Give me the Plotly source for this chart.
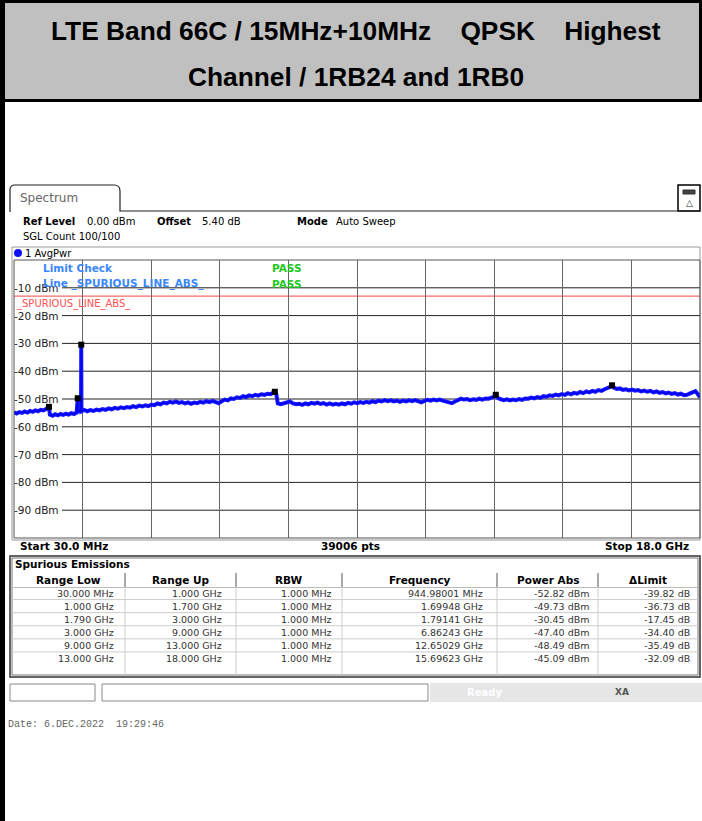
import plotly.graph_objects as go

W, H = 702, 821

# ---------------- data ----------------
title_lines = ["LTE Band 66C / 15MHz+10MHz    QPSK    Highest", "Channel / 1RB24 and 1RB0"]

trace_freq_ghz = [
    0.03, 0.10, 0.17, 0.24, 0.31, 0.38, 0.45, 0.52, 0.59, 0.66, 0.73, 0.80, 0.87, 0.945,
    0.97, 1.04, 1.11, 1.18, 1.25, 1.32, 1.39, 1.46, 1.53, 1.60, 1.67, 1.695, 1.6995, 1.705,
    1.75, 1.785, 1.7914, 1.797,
    1.87, 1.95, 2.03, 2.11, 2.19, 2.27, 2.35, 2.43, 2.51, 2.59, 2.67, 2.75, 2.83, 2.91,
    2.99, 3.07, 3.15, 3.23, 3.31, 3.39, 3.47, 3.55, 3.63, 3.71, 3.79, 3.87, 3.95, 4.03,
    4.11, 4.19, 4.27, 4.35, 4.43, 4.51, 4.59, 4.67, 4.75, 4.83, 4.91, 4.99, 5.07, 5.15,
    5.23, 5.31, 5.39, 5.47, 5.55, 5.63, 5.71, 5.79, 5.87, 5.95, 6.03, 6.11, 6.19, 6.27,
    6.35, 6.43, 6.51, 6.59, 6.67, 6.75, 6.82, 6.8624, 6.90, 6.94,
    7.02, 7.10, 7.18, 7.26, 7.34, 7.42, 7.50, 7.58, 7.66, 7.74, 7.82, 7.90, 7.98, 8.06,
    8.14, 8.22, 8.30, 8.38, 8.46, 8.54, 8.62, 8.70, 8.78, 8.86, 8.94, 9.02, 9.10, 9.18,
    9.26, 9.34, 9.42, 9.50, 9.58, 9.66, 9.74, 9.82, 9.90, 9.98, 10.06, 10.14, 10.22, 10.30,
    10.38, 10.46, 10.54, 10.62, 10.70, 10.78, 10.86, 10.94, 11.02, 11.10, 11.18, 11.26,
    11.34, 11.42, 11.50, 11.58, 11.66, 11.74, 11.82, 11.90, 11.98, 12.06, 12.14, 12.22,
    12.30, 12.38, 12.46, 12.54, 12.60, 12.6503, 12.70, 12.78,
    12.86, 12.94, 13.02, 13.10, 13.18, 13.26, 13.34, 13.42, 13.50, 13.58, 13.66, 13.74,
    13.82, 13.90, 13.98, 14.06, 14.14, 14.22, 14.30, 14.38, 14.46, 14.54, 14.62, 14.70,
    14.78, 14.86, 14.94, 15.02, 15.10, 15.18, 15.26, 15.34, 15.42, 15.50, 15.58, 15.65,
    15.6962, 15.74, 15.82, 15.90, 15.98, 16.06, 16.14, 16.22, 16.30, 16.38, 16.46, 16.54,
    16.62, 16.70, 16.78, 16.86, 16.94, 17.02, 17.10, 17.18, 17.26, 17.34, 17.42, 17.50,
    17.58, 17.66, 17.74, 17.82, 17.88, 17.94, 18.00,
]
trace_dbm = [
    -54.8, -55.2, -54.7, -55.0, -54.5, -54.9, -54.3, -54.6, -54.1, -54.4, -53.9, -54.1, -53.6, -52.82,
    -55.6, -56.0, -55.5, -55.9, -55.4, -55.7, -55.3, -55.6, -55.1, -55.4, -54.9, -50.5, -49.73, -54.6,
    -54.2, -54.5, -30.45, -54.4,
    -53.9, -54.4, -54.0, -54.3, -53.8, -54.1, -53.6, -53.9, -53.4, -53.7, -53.2, -53.5, -53.0, -53.3,
    -52.9, -53.1, -52.6, -52.9, -52.4, -52.7, -52.3, -52.6, -52.0, -52.2, -51.6, -51.9, -51.3, -51.6,
    -51.0, -51.3, -50.9, -51.4, -51.1, -51.6, -51.2, -51.7, -51.3, -51.5, -51.0, -51.3, -50.8, -51.1,
    -50.7, -51.2, -51.5, -50.8, -50.2, -50.5, -49.8, -50.0, -49.4, -49.6, -49.0, -49.3, -48.7, -49.0,
    -48.5, -48.8, -48.3, -48.5, -48.1, -48.3, -47.9, -47.40, -48.2, -51.6,
    -51.9, -51.5, -51.2, -50.9, -51.6, -51.9, -51.7, -52.1, -51.6, -51.9, -51.4, -51.7, -51.3, -51.8,
    -51.5, -52.0, -51.6, -52.0, -51.7, -52.0, -51.6, -51.9, -51.4, -51.7, -51.2, -51.5, -51.1, -51.4,
    -51.0, -51.3, -50.8, -51.1, -50.6, -50.9, -50.4, -50.8, -50.5, -50.9, -50.6, -51.0, -50.6, -50.9,
    -50.5, -50.8, -50.4, -50.9, -51.2, -50.7, -50.3, -50.6, -50.2, -50.5, -50.2, -50.6,
    -50.8, -51.2, -51.5, -50.9, -50.3, -49.9, -50.2, -50.0, -50.4, -50.1, -50.3, -49.9,
    -50.2, -49.8, -49.9, -49.5, -49.2, -48.49, -49.6, -50.1,
    -50.4, -50.1, -50.5, -50.2, -50.4, -50.0, -50.3, -49.8, -49.9, -49.5, -49.8, -49.3,
    -49.6, -49.0, -49.2, -48.7, -48.9, -48.4, -48.7, -48.2, -48.5, -47.9, -48.3, -47.8,
    -48.1, -47.5, -47.9, -47.3, -47.6, -47.1, -47.4, -46.8, -47.1, -46.5, -46.2, -45.6,
    -45.09, -45.9, -46.4, -46.2, -46.7, -46.5, -46.9, -46.6, -47.0, -46.8, -47.3, -47.0,
    -47.4, -47.1, -47.6, -47.3, -47.8, -47.5, -48.0, -47.7, -48.2, -47.9, -48.4, -48.1,
    -48.6, -48.5, -48.0, -47.4, -47.2, -48.2, -49.4,
]

limit_dbm = -13.0
y_ticks = [-10, -20, -30, -40, -50, -60, -70, -80, -90]
y_tick_labels = ["-10 dBm", "-20 dBm", "-30 dBm", "-40 dBm", "-50 dBm",
                 "-60 dBm", "-70 dBm", "-80 dBm", "-90 dBm"]

col_headers = ["Range Low", "Range Up", "RBW", "Frequency", "Power Abs", "\u0394Limit"]
range_low = ["30.000 MHz", "1.000 GHz", "1.790 GHz", "3.000 GHz", "9.000 GHz", "13.000 GHz"]
range_up = ["1.000 GHz", "1.700 GHz", "3.000 GHz", "9.000 GHz", "13.000 GHz", "18.000 GHz"]
rbw = ["1.000 MHz"] * 6
peak_freq_label = ["944.98001 MHz", "1.69948 GHz", "1.79141 GHz", "6.86243 GHz",
                   "12.65029 GHz", "15.69623 GHz"]
peak_freq_ghz = [0.94498001, 1.69948, 1.79141, 6.86243, 12.65029, 15.69623]
peak_power_dbm = [-52.82, -49.73, -30.45, -47.40, -48.49, -45.09]
delta_limit_db = [-39.82, -36.73, -17.45, -34.40, -35.49, -32.09]

# ---------------- helpers ----------------
def px(x):
    return x / W

def py(y):
    return 1 - y / H

PLOT_L, PLOT_R, PLOT_T, PLOT_B = 14, 700, 260, 538
F0, F1 = 0.03, 18.0
UI = "DejaVu Sans"

fig = go.Figure()

fig.add_trace(go.Scatter(
    x=trace_freq_ghz, y=trace_dbm, mode="lines",
    line=dict(color="#1a1aff", width=4), hoverinfo="skip", showlegend=False))
fig.add_trace(go.Scatter(
    x=trace_freq_ghz, y=trace_dbm, mode="lines",
    line=dict(color="#0000f0", width=1.5), hoverinfo="skip", showlegend=False))
fig.add_trace(go.Scatter(
    x=peak_freq_ghz, y=peak_power_dbm, mode="markers",
    marker=dict(color="black", size=6, symbol="square"), hoverinfo="skip", showlegend=False))

shapes = []
ann = []

def rect(x0, y0, x1, y1, line="black", width=1, fill=None, layer="below"):
    shapes.append(dict(type="rect", xref="paper", yref="paper",
                       x0=px(x0), x1=px(x1), y0=py(y1), y1=py(y0),
                       line=dict(color=line, width=width),
                       fillcolor=fill if fill else "rgba(0,0,0,0)", layer=layer))

def hline(x0, x1, y, color="black", width=1, layer="above"):
    shapes.append(dict(type="line", xref="paper", yref="paper",
                       x0=px(x0), x1=px(x1), y0=py(y), y1=py(y),
                       line=dict(color=color, width=width), layer=layer))

def vline(x, y0, y1, color="black", width=1, layer="above"):
    shapes.append(dict(type="line", xref="paper", yref="paper",
                       x0=px(x), x1=px(x), y0=py(y0), y1=py(y1),
                       line=dict(color=color, width=width), layer=layer))

def text(x, y, s, size=11, color="black", xanchor="left", family=UI, bold=False):
    if bold:
        s = "<b>" + s + "</b>"
    ann.append(dict(x=px(x), y=py(y), xref="paper", yref="paper", text=s,
                    showarrow=False, xanchor=xanchor, yanchor="middle",
                    font=dict(family=family, size=size, color=color),
                    borderpad=0))

def nb(s):
    return s.replace("  ", "&nbsp;&nbsp;")

# --- title cell ---
rect(1, 1.5, 700.5, 100.5, line="black", width=3, fill="#c0c0c0")
text(356, 31, nb(title_lines[0]), size=26.3, xanchor="center", family="Liberation Sans", bold=True)
text(356, 77, nb(title_lines[1]), size=26.3, xanchor="center", family="Liberation Sans", bold=True)
# left thick border
rect(0, 0, 5, 821, line="black", width=0, fill="black", layer="above")

# --- spectrum tab ---
shapes.append(dict(type="path", xref="paper", yref="paper",
                   path=(f"M {px(10)} {py(212)} L {px(10)} {py(190)} Q {px(10)} {py(185)} {px(15)} {py(185)} "
                         f"L {px(114)} {py(185)} Q {px(120)} {py(185)} {px(120)} {py(191)} L {px(120)} {py(211)} "
                         f"L {px(700)} {py(211)}"),
                   line=dict(color="#222222", width=1.2)))
text(19, 198, "Spectrum", size=12, color="#666666")
# icon top right
rect(678, 185, 700, 211, line="black", width=1.5, fill="white")
rect(683, 190, 695, 194, line="#333333", width=1, fill="#444444")
text(689, 203, "\u25b3", size=9, xanchor="center", color="#333333")

# --- header info ---
text(22, 221, "Ref Level", size=10, bold=True)
text(86, 221, "0.00 dBm", size=10)
text(156, 221, "Offset", size=10, bold=True)
text(201, 221, "5.40 dB", size=10)
text(296, 221, "Mode", size=10, bold=True)
text(335, 221, "Auto Sweep", size=10)
text(22, 236, "SGL Count 100/100", size=10)

# trace info box
rect(12, 247, 700, 540, line="#999999", width=1)
shapes.append(dict(type="circle", xref="paper", yref="paper",
                   x0=px(14), x1=px(22), y0=py(257), y1=py(249),
                   fillcolor="#1010ff", line=dict(color="#1010ff", width=0)))
text(24, 253, "1 AvgPwr", size=10)

# --- plot frame & gridlines ---
rect(PLOT_L, PLOT_T, PLOT_R, PLOT_B, line="#555555", width=1, layer="above")
for v in y_ticks:
    shapes.append(dict(type="line", xref="paper", yref="y", x0=px(62), x1=px(PLOT_R), y0=v, y1=v,
                       line=dict(color="#222222", width=1), layer="below"))
shapes.append(dict(type="line", xref="paper", yref="y", x0=px(PLOT_L), x1=px(PLOT_R),
                   y0=limit_dbm, y1=limit_dbm, line=dict(color="#ff6a6a", width=1.2), layer="below"))
for v, lab in zip(y_ticks, y_tick_labels):
    ann.append(dict(x=px(61), y=v, xref="paper", yref="y", text=lab, showarrow=False,
                    xanchor="right", yanchor="middle",
                    font=dict(family=UI, size=10.5, color="#222222")))

text(42, 268, "Limit Check", size=10.5, color="#3a86ff", bold=True)
text(271, 268, "PASS", size=10.5, color="#1cc81c", bold=True)
text(42, 284, "Line _SPURIOUS_LINE_ABS_", size=10.5, color="#3a86ff", bold=True)
text(271, 284, "PASS", size=10.5, color="#1cc81c", bold=True)
text(15, 304, "_SPURIOUS_LINE_ABS_", size=10, color="#ff5050")

text(19, 546, "Start 30.0 MHz", size=10.5, bold=True)
text(350, 546, "39006 pts", size=10.5, bold=True, xanchor="center")
text(690, 546, "Stop 18.0 GHz", size=10.5, bold=True, xanchor="right")

# --- table ---
rect(10, 556, 700, 677, line="#333333", width=1.5)
rect(12, 558, 698, 675, line="#777777", width=1)
text(14, 564, "Spurious Emissions", size=10.5, bold=True)
col_edges = [12, 125, 236, 342, 497, 598, 698]
for i, hname in enumerate(col_headers):
    cx = (col_edges[i] + col_edges[i + 1]) / 2
    text(cx, 580, hname, size=10.5, bold=True, xanchor="center")
for e in col_edges[1:-1]:
    vline(e, 573, 587, color="#555555")
hline(12, 698, 587.5, color="#bbbbbb")
row_y0 = 593
row_h = 13.1
cols = [range_low, range_up, rbw, peak_freq_label,
        [f"{p:.2f} dBm" for p in peak_power_dbm],
        [f"{d:.2f} dB" for d in delta_limit_db]]
right_edges = [115, 223, 333, 484, 590, 691]
for r in range(6):
    yy = row_y0 + r * row_h
    for c in range(6):
        text(right_edges[c], yy, cols[c][r], size=9.5, color="#333333", xanchor="right")
    if r < 5:
        hline(12, 698, yy + row_h / 2, color="#cccccc")
for e in col_edges[1:-1]:
    vline(e, 587, 675, color="#cccccc")

# --- status bar ---
shapes.append(dict(type="rect", xref="paper", yref="paper", x0=px(430), x1=px(702),
                   y0=py(702), y1=py(683), line=dict(width=0), fillcolor="#e6e6e6"))
rect(10, 684, 95, 701, line="#888888", width=1, fill="white")
rect(102, 684, 428, 701, line="#888888", width=1, fill="white")
text(466, 692, "Ready", size=10, color="white", bold=True)
rect(538, 686, 600, 699, line="#b0b0b0", width=1, fill="#c4c4c4")
text(614, 692, "XA", size=9, color="#555555", bold=True)

text(7, 724, "Date: 6.DEC.2022  19:29:46".replace("  ", "&nbsp;&nbsp;"), size=10,
     color="#666666", family="Liberation Mono")

fig.update_layout(
    width=W, height=H, margin=dict(l=0, r=0, t=0, b=0),
    paper_bgcolor="white", plot_bgcolor="white",
    shapes=shapes, annotations=ann, showlegend=False,
    xaxis=dict(domain=[px(PLOT_L), px(PLOT_R)], range=[F0, F1], tick0=F0, dtick=(F1 - F0) / 10,
               showgrid=True, gridcolor="#666666", gridwidth=1, showticklabels=False,
               zeroline=False, showline=False, ticks=""),
    yaxis=dict(domain=[py(PLOT_B), py(PLOT_T)], range=[-100, 0], showgrid=False,
               showticklabels=False, zeroline=False, showline=False, ticks=""),
)

fig.write_html("out.html", config={"displayModeBar": False},
               post_script="document.body.style.margin='0';document.body.style.overflow='hidden';")
